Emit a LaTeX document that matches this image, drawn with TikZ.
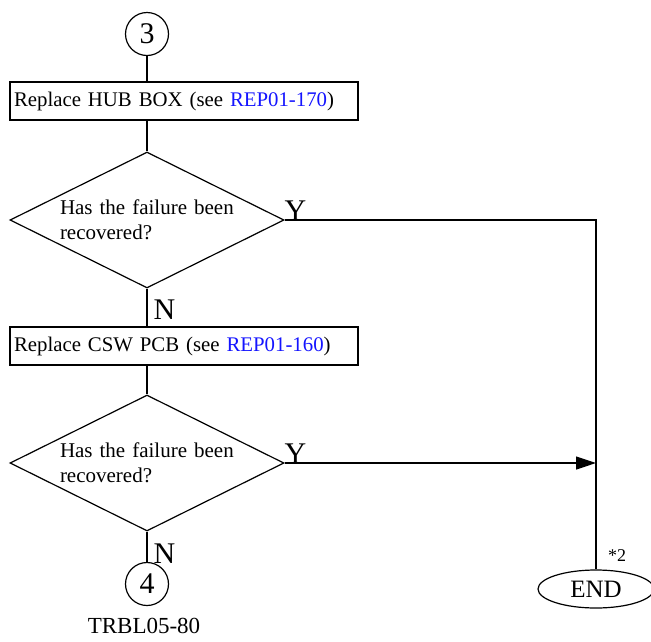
\documentclass[tikz,border=0pt]{standalone}
\usepackage{fontspec}
\setmainfont{Liberation Serif}
\usetikzlibrary{shapes.geometric,arrows.meta}
\definecolor{linkblue}{RGB}{20,20,255}
\begin{document}
\begin{tikzpicture}[x=1pt,y=-1pt,line width=1.2pt,
  conn/.style={circle,draw,minimum size=43pt,inner sep=0pt,font=\fontsize{30}{30}\selectfont},
  stepbox/.style={rectangle,draw,minimum width=348pt,minimum height=38pt,text width=340pt,align=left,inner sep=4pt,font=\fontsize{20.8}{24}\selectfont},
  decide/.style={diamond,draw,aspect=2.015,minimum width=274pt,minimum height=136pt,inner sep=0pt,text width=174pt,align=left,font=\fontsize{21}{25}\selectfont},
  yn/.style={inner sep=0pt,font=\fontsize{30}{30}\selectfont},
  term/.style={ellipse,draw,minimum width=116pt,minimum height=38pt,inner sep=0pt,font=\fontsize{25}{25}\selectfont}]
\useasboundingbox (0,0) rectangle (651,641);
\node[conn] (c3) at (147,34) {3};
\node[stepbox] (b1) at (184,101) {Replace HUB BOX (see \textcolor{linkblue}{REP01-170})};
\node[decide] (d1) at (147,220) {Has the failure been\\recovered?};
\node[stepbox] (b2) at (184,346) {Replace CSW PCB (see \textcolor{linkblue}{REP01-160})};
\node[decide] (d2) at (147,463) {Has the failure been\\recovered?};
\node[conn] (c4) at (147,584) {4};
\node[inner sep=0pt,font=\fontsize{23}{23}\selectfont] (ref) at (144,626) {TRBL05-80};
\node[term] (end) at (596,589) {END};
\node[inner sep=0pt,font=\fontsize{18}{18}\selectfont] (star) at (617,556) {*2};
\node[yn,anchor=base west] (y1) at (284,220) {Y};
\node[yn,anchor=base west] (y2) at (284,463) {Y};
\node[yn,anchor=base west] (n1) at (153,319) {N};
\node[yn,anchor=base west] (n2) at (153,563) {N};
\coordinate (j1) at (596,220);
\coordinate (j2) at (596,463);
\draw (c3.south) -- (c3.south |- b1.north);
\draw (c3.south |- b1.south) -- (d1.north);
\draw (d1.south) -- (d1.south |- b2.north);
\draw (d1.south |- b2.south) -- (d2.north);
\draw (d2.south) -- (c4.north);
\draw (d1.east) -- (j1) -- (end.north);
\draw[-{Triangle[length=20pt,width=13pt]}] (d2.east) -- (j2);
\end{tikzpicture}
\end{document}
